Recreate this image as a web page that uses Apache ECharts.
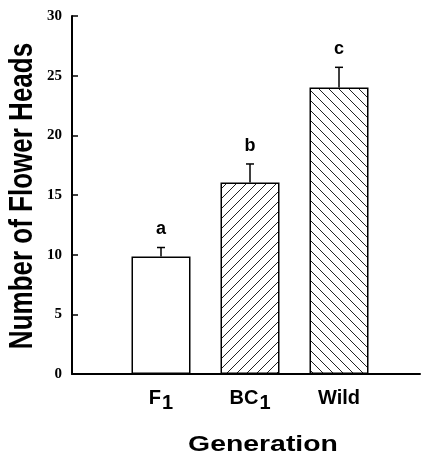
<!DOCTYPE html>
<html>
<head>
<meta charset="utf-8">
<script src="https://cdn.jsdelivr.net/npm/echarts@6/dist/echarts.min.js"></script>
<style>html,body{margin:0;padding:0;background:#fff;}#c{width:423px;height:458px;}</style>
</head>
<body>
<div id="c"></div>
<script>
const categories = ['F1', 'BC1', 'Wild'];
const categoryLabels = ['{m|F}{s|1}', '{m|BC}{s|1}', '{m|Wild}'];
const positions = [1, 2, 3];
const means = [9.85, 16.05, 24.0];
const errorTops = [10.6, 17.6, 25.7];
const letters = ['a', 'b', 'c'];
const fills = ['plain', 'slash', 'backslash'];
const yTicks = [0, 5, 10, 15, 20, 25, 30];

function hatch(dir) {
  const s = 10;
  const c = document.createElement('canvas');
  c.width = s; c.height = s;
  const ctx = c.getContext('2d');
  ctx.fillStyle = '#fff';
  ctx.fillRect(0, 0, s, s);
  ctx.strokeStyle = '#222';
  ctx.lineWidth = 1;
  ctx.beginPath();
  if (dir === 'slash') {
    ctx.moveTo(-2, s + 2); ctx.lineTo(s + 2, -2);
    ctx.moveTo(-2, 2); ctx.lineTo(2, -2);
    ctx.moveTo(s - 2, s + 2); ctx.lineTo(s + 2, s - 2);
  } else {
    ctx.moveTo(-2, -2); ctx.lineTo(s + 2, s + 2);
    ctx.moveTo(-2, s - 2); ctx.lineTo(2, s + 2);
    ctx.moveTo(s - 2, -2); ctx.lineTo(s + 2, 2);
  }
  ctx.stroke();
  return { image: c, repetition: 'repeat' };
}

function fillFor(kind) {
  if (kind === 'plain') return '#fff';
  return hatch(kind);
}

const chart = echarts.init(document.getElementById('c'), null, { renderer: 'canvas' });

const barData = positions.map((p, i) => ({
  value: [p, means[i]],
  itemStyle: { color: fillFor(fills[i]), borderColor: '#000', borderWidth: 1.5 }
}));
const errData = positions.map((p, i) => [p, means[i], errorTops[i], i]);

chart.setOption({
  animation: false,
  backgroundColor: '#fff',
  grid: { left: 72, right: 3, top: 16, bottom: 84, containLabel: false },
  xAxis: {
    type: 'value', min: 0, max: 3.91, interval: 1,
    axisLine: { show: true, lineStyle: { color: '#000', width: 2 } },
    axisTick: { show: false },
    splitLine: { show: false },
    axisLabel: {
      margin: 14,
      showMinLabel: false, showMaxLabel: false,
      formatter: function (v) {
        const idx = positions.indexOf(v);
        return idx >= 0 ? categoryLabels[idx] : '';
      },
      rich: {
        m: { fontFamily: 'Liberation Sans', fontWeight: 'bold', fontSize: 20, color: '#000', verticalAlign: 'top' },
        s: { fontFamily: 'Liberation Sans', fontWeight: 'bold', fontSize: 20, color: '#000', verticalAlign: 'top', padding: [5, 0, 0, 1] }
      }
    }
  },
  yAxis: {
    type: 'value', min: 0, max: 30, interval: 5,
    axisLine: { show: true, lineStyle: { color: '#000', width: 2 } },
    axisTick: { show: true, inside: true, length: 6, lineStyle: { color: '#000', width: 1.5 } },
    splitLine: { show: false },
    axisLabel: {
      margin: 10,
      fontFamily: 'Liberation Serif', fontWeight: 'bold', fontSize: 15, color: '#000',
      formatter: function (v) { return yTicks.indexOf(v) >= 0 ? String(v) : ''; }
    }
  },
  graphic: [
    {
      type: 'text', x: 23, y: 196, rotation: Math.PI / 2, scaleY: 1.25,
      style: {
        text: 'Number of Flower Heads', fontFamily: 'Liberation Sans', fontWeight: 'bold',
        fontSize: 26, fill: '#000', align: 'center', verticalAlign: 'middle'
      }
    },
    {
      type: 'text', x: 263, y: 445, scaleX: 1.29,
      style: {
        text: 'Generation', fontFamily: 'Liberation Sans', fontWeight: 'bold',
        fontSize: 22, fill: '#000', align: 'center', verticalAlign: 'middle'
      }
    }
  ],
  series: [
    {
      type: 'bar', data: barData, barWidth: 59, z: 2
    },
    {
      type: 'custom', z: 3,
      data: errData,
      renderItem: function (params, api) {
        const x = api.value(0);
        const base = api.coord([x, api.value(1)]);
        const top = api.coord([x, api.value(2)]);
        const idx = api.value(3);
        const style = { stroke: '#000', lineWidth: 1.5 };
        return {
          type: 'group',
          children: [
            { type: 'line', shape: { x1: base[0], y1: base[1], x2: top[0], y2: top[1] }, style: style },
            { type: 'line', shape: { x1: top[0] - 4, y1: top[1], x2: top[0] + 4, y2: top[1] }, style: style },
            { type: 'text', x: top[0], y: top[1] - 9,
              style: { text: letters[idx], fontFamily: 'Liberation Sans', fontWeight: 'bold', fontSize: 18,
                       fill: '#000', align: 'center', verticalAlign: 'bottom' } }
          ]
        };
      }
    }
  ]
});
</script>
</body>
</html>
